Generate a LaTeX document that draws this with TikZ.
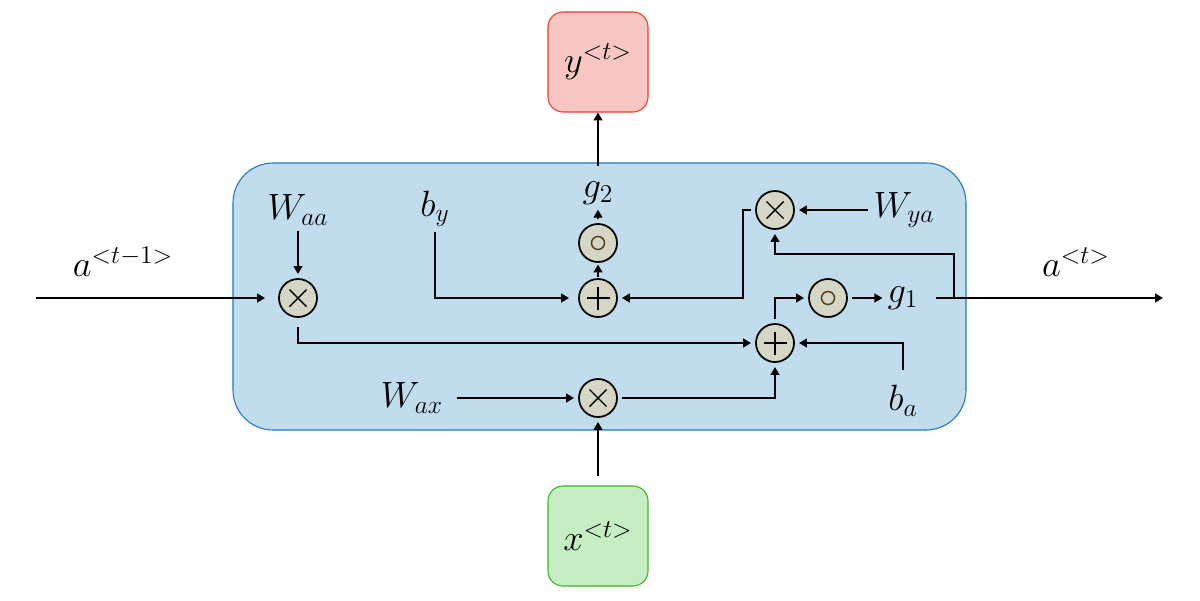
\RequirePackage{fix-cm}
\documentclass[tikz,border=0pt]{standalone}
\usetikzlibrary{arrows.meta}
\definecolor{cellfill}{RGB}{192,220,237}
\definecolor{celldraw}{RGB}{30,120,190}
\definecolor{outfill}{RGB}{248,198,194}
\definecolor{outdraw}{RGB}{230,60,50}
\definecolor{infill}{RGB}{198,236,196}
\definecolor{indraw}{RGB}{60,180,30}
\definecolor{opfill}{RGB}{213,214,198}
\definecolor{sigdraw}{RGB}{80,60,20}

\begin{document}
\begin{tikzpicture}[
    font=\fontsize{20.8}{25}\selectfont,
    lbl/.style={inner sep=0.1cm},
    op/.style={circle, draw, fill=opfill, line width=1pt, minimum size=0.76cm, inner sep=0pt, outer sep=0.1cm},
    mul/.style={op, path picture={
        \draw[line width=0.8pt] ([shift={(-0.17,-0.17)}]path picture bounding box.center) -- ([shift={(0.17,0.17)}]path picture bounding box.center);
        \draw[line width=0.8pt] ([shift={(-0.17,0.17)}]path picture bounding box.center) -- ([shift={(0.17,-0.17)}]path picture bounding box.center);}},
    add/.style={op, path picture={
        \draw[line width=0.8pt] ([xshift=-0.23cm]path picture bounding box.center) -- ([xshift=0.23cm]path picture bounding box.center);
        \draw[line width=0.8pt] ([yshift=-0.23cm]path picture bounding box.center) -- ([yshift=0.23cm]path picture bounding box.center);}},
    act/.style={op, path picture={
        \draw[sigdraw, line width=0.8pt] (path picture bounding box.center) circle (0.13cm);}},
    io/.style={rounded corners=0.3cm, minimum size=2cm, line width=0.6pt},
    arr/.style={-{Triangle[length=4.5pt,width=5pt]}, line width=1pt}
]
    \useasboundingbox (-11.96,5.96) rectangle (12.04,-6.04);

    % Cell body
    \node[draw=celldraw, fill=cellfill, rounded corners=0.8cm, minimum width=14.66cm, minimum height=5.34cm, line width=0.6pt] (cell) at (0.03,0.03) {};
    % Output and input blocks
    \node[io, draw=outdraw, fill=outfill] (yout) at (0,4.72) {$y^{<t>}$};
    \node[io, draw=indraw, fill=infill] (xin) at (0,-4.76) {$x^{<t>}$};

    % Operations
    \node[mul] (mulaa) at (-6,0) {};
    \node[add] (addy) at (0,0) {};
    \node[act] (acty) at (0,1.1) {};
    \node[mul] (mulya) at (3.54,1.76) {};
    \node[add] (adda) at (3.54,-0.9) {};
    \node[act] (acta) at (4.6,0) {};
    \node[mul] (mulax) at (0,-2.0) {};

    % Weights, biases and activations
    \node[lbl] (waa) at (-6,1.76) {$W_{aa}$};
    \node[lbl] (by) at (-3.26,1.78) {$b_y$};
    \node[lbl] (wax) at (-3.72,-2.0) {$W_{ax}$};
    \node[lbl] (wya) at (6.12,1.76) {$W_{ya}$};
    \node[lbl] (ba) at (6.1,-2.06) {$b_a$};
    \node[lbl] (g1) at (6.1,0) {$g_1$};
    \node[lbl] (g2) at (0,2.1) {$g_2$};

    % Hidden state labels
    \node (aprev) at (-9.5,0.72) {$a^{<t-1>}$};
    \node (anext) at (9.56,0.72) {$a^{<t>}$};

    % Free ends and turning points
    \coordinate (ain) at (-11.24,0);
    \coordinate (aout) at (11.3,0);
    \coordinate (split) at (7.12,0);
    \coordinate (fb) at (3.54,0.88);
    \coordinate (yturn) at (2.9,1.76);

    % Arrows
    \draw[arr, shorten >=0.18cm] (ain) -- (mulaa);
    \draw[arr] (waa) -- (mulaa);
    \draw[arr, shorten <=0.1cm] (mulaa) |- (adda);
    \draw[arr, shorten >=0.1cm] (by.south) |- (addy);
    \draw[arr, shorten <=-0.05cm, shorten >=-0.05cm] (addy) -- (acty);
    \draw[arr] (acty) -- (g2);
    \draw[arr, shorten <=0.2cm] (g2) -- (yout);
    \draw[arr, shorten <=0.18cm] (wax) -- (mulax);
    \draw[arr, shorten <=0.18cm] (xin) -- (mulax);
    \draw[arr] (mulax) -| (adda);
    \draw[arr, shorten <=0.2cm] (ba) |- (adda);
    \draw[arr] (adda) |- (acta);
    \draw[arr] (acta) -- (g1);
    \draw[arr, shorten <=0.25cm] (g1) -- (aout);
    \draw[arr] (split) |- (fb) -- (mulya);
    \draw[arr] (wya) -- (mulya);
    \draw[arr] (mulya) -- (yturn) |- (addy);
\end{tikzpicture}
\end{document}
